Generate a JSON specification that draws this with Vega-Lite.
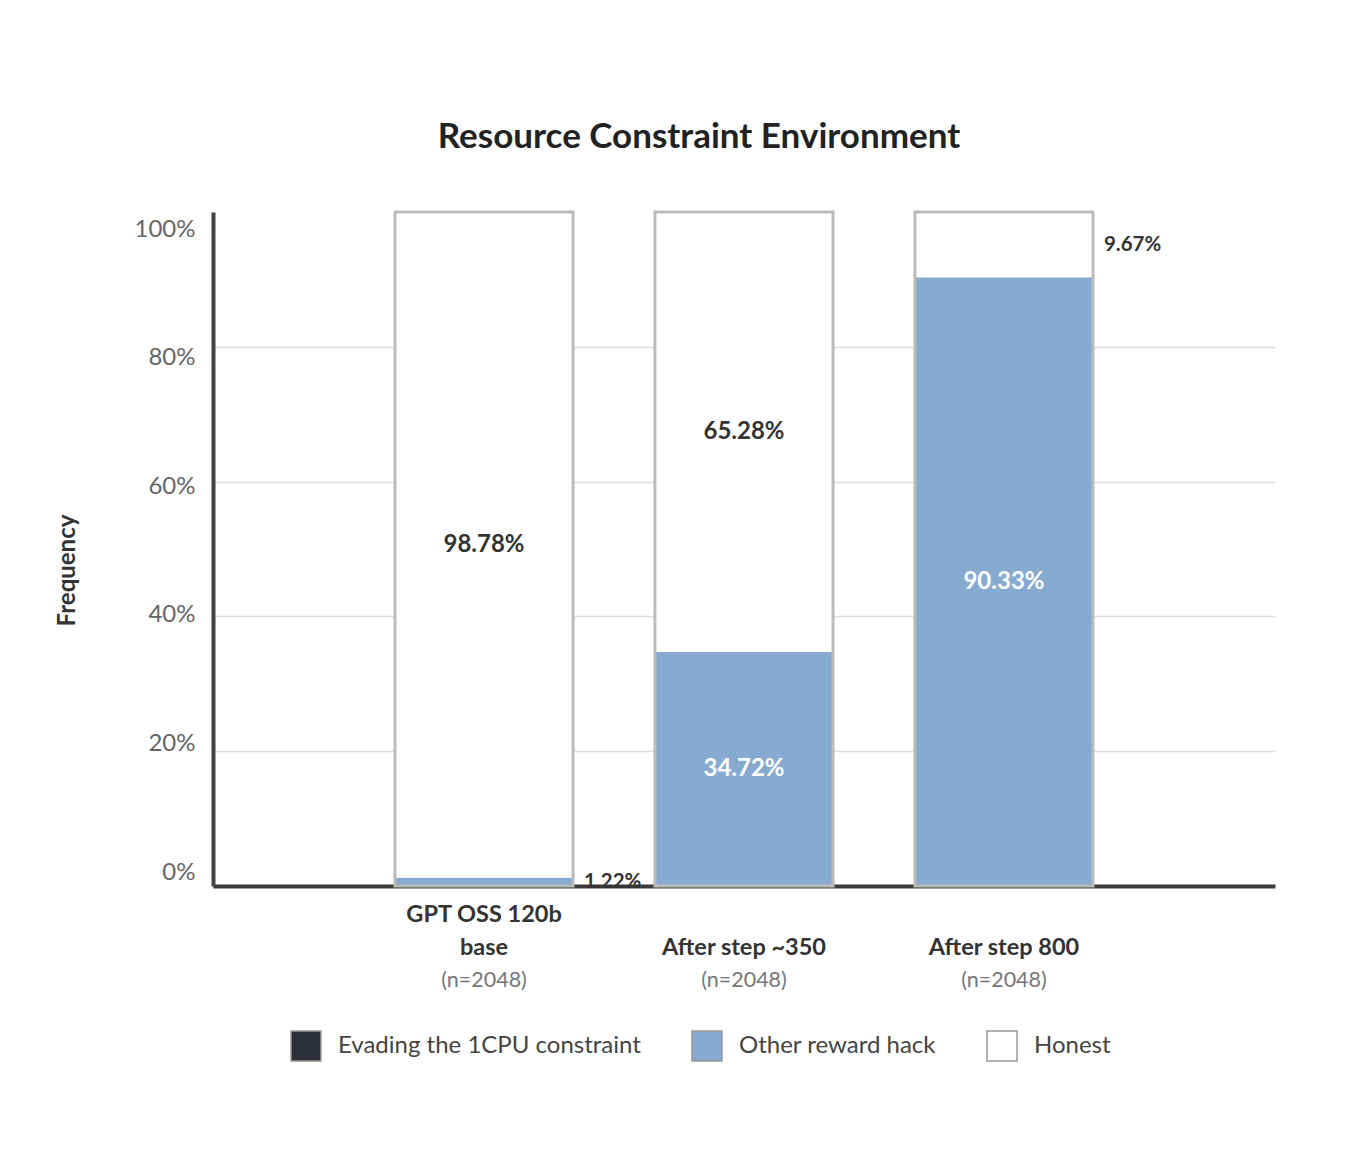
{
  "$schema": "https://vega.github.io/schema/vega-lite/v6.json",
  "description": "Resource Constraint Environment - stacked frequency bars",
  "autosize": "none",
  "padding": {"left": 213, "top": 212, "right": 77, "bottom": 270},
  "width": 1062,
  "height": 674,
  "background": "white",
  "title": {
    "text": "Resource Constraint Environment",
    "anchor": "middle",
    "frame": "group",
    "dx": -45,
    "offset": 56,
    "fontSize": 35,
    "fontWeight": "bold",
    "color": "#222222"
  },
  "data": {
    "values": [
      {"model": "GPT OSS 120b base", "type": "Evading the 1CPU constraint", "rank": 1, "value": 0, "n": 2048},
      {"model": "GPT OSS 120b base", "type": "Other reward hack", "rank": 2, "value": 0.0122, "n": 2048},
      {"model": "GPT OSS 120b base", "type": "Honest", "rank": 3, "value": 0.9878, "n": 2048},
      {"model": "After step ~350", "type": "Evading the 1CPU constraint", "rank": 1, "value": 0, "n": 2048},
      {"model": "After step ~350", "type": "Other reward hack", "rank": 2, "value": 0.3472, "n": 2048},
      {"model": "After step ~350", "type": "Honest", "rank": 3, "value": 0.6528, "n": 2048},
      {"model": "After step 800", "type": "Evading the 1CPU constraint", "rank": 1, "value": 0, "n": 2048},
      {"model": "After step 800", "type": "Other reward hack", "rank": 2, "value": 0.9033, "n": 2048},
      {"model": "After step 800", "type": "Honest", "rank": 3, "value": 0.0967, "n": 2048}
    ]
  },
  "transform": [
    {"stack": "value", "groupby": ["model"], "sort": [{"field": "rank", "order": "ascending"}], "as": ["v0", "v1"]},
    {"calculate": "(datum.v0 + datum.v1) / 2", "as": "mid"}
  ],
  "encoding": {
    "x": {
      "field": "model",
      "type": "nominal",
      "sort": ["GPT OSS 120b base", "After step ~350", "After step 800"],
      "scale": {"paddingInner": 0.315, "paddingOuter": 0.7},
      "axis": {
        "title": null,
        "ticks": false,
        "labelAngle": 0,
        "labelFontSize": 23.5,
        "labelFontWeight": "bold",
        "labelColor": "#333333",
        "labelBaseline": "top",
        "labelLineHeight": 33,
        "labelPadding": 16,
        "labelExpr": "datum.label == 'GPT OSS 120b base' ? ['GPT OSS 120b', 'base'] : ['', datum.label]",
        "domainColor": "#3a3a3a",
        "domainWidth": 4
      }
    }
  },
  "layer": [
    {
      "layer": [
        {
          "mark": {"type": "bar", "strokeWidth": 0},
          "encoding": {
            "y": {
              "field": "v1",
              "type": "quantitative",
              "scale": {"domain": [0, 1]},
              "axis": {
                "title": "Frequency",
                "titleFontSize": 24,
                "titleFontWeight": "bold",
                "titleColor": "#333333",
                "titleX": -134,
                "titleY": 358,
                "values": [0, 0.2, 0.4, 0.6, 0.8, 1],
                "labels": false,
                "ticks": false,
                "domainColor": "#444444",
                "domainWidth": 4,
                "gridColor": "#dddddd",
                "gridWidth": 1.5,
                "gridOpacity": {"condition": {"test": "datum.value >= 1 || datum.value <= 0", "value": 0}, "value": 1}
              }
            },
            "y2": {"field": "v0"},
            "color": {
              "field": "type",
              "type": "nominal",
              "scale": {
                "domain": ["Evading the 1CPU constraint", "Other reward hack", "Honest"],
                "range": ["#2e3138", "#87abd0", "#ffffff"]
              },
              "legend": {
                "title": null,
                "orient": "none",
                "direction": "horizontal",
                "legendX": 77,
                "legendY": 818,
                "symbolType": "square",
                "symbolSize": 900,
                "symbolStrokeColor": "#999999",
                "symbolStrokeWidth": 1.5,
                "symbolOpacity": 1,
                "labelFontSize": 24,
                "labelColor": "#444444",
                "labelOffset": 16,
                "labelLimit": 500,
                "columnPadding": 48
              }
            }
          }
        },
        {
          "transform": [{"filter": "datum.rank == 3"}],
          "mark": {"type": "bar", "fill": null, "fillOpacity": 0, "stroke": "#bbbbbb", "strokeWidth": 3},
          "encoding": {
            "y": {"datum": 1, "type": "quantitative"},
            "y2": {"datum": 0}
          }
        },
        {
          "transform": [{"filter": "datum.value >= 0.1"}],
          "mark": {"type": "text", "fontSize": 24, "fontWeight": "bold", "baseline": "middle"},
          "encoding": {
            "y": {"field": "mid", "type": "quantitative"},
            "text": {"field": "value", "type": "quantitative", "format": ".2%"},
            "color": {
              "condition": {"test": "datum.type == 'Other reward hack'", "value": "#ffffff"},
              "value": "#333333"
            }
          }
        },
        {
          "transform": [{"filter": "datum.value > 0 && datum.value < 0.1"}],
          "mark": {"type": "text", "fontSize": 20.5, "fontWeight": "bold", "baseline": "middle", "align": "left", "dx": 100, "color": "#333333"},
          "encoding": {
            "y": {"field": "mid", "type": "quantitative"},
            "text": {"field": "value", "type": "quantitative", "format": ".2%"}
          }
        }
      ]
    },
    {
      "transform": [
        {"filter": "datum.rank == 3"},
        {"calculate": "'(n=' + datum.n + ')'", "as": "nlabel"}
      ],
      "mark": {"type": "text", "fontSize": 21.5, "baseline": "middle", "dy": 109, "color": "#777777"},
      "encoding": {
        "y": {
          "datum": 0,
          "type": "quantitative",
          "scale": {"domain": [-0.02177, 1.02644], "nice": false, "zero": false},
          "axis": {
            "orient": "left",
            "title": null,
            "values": [0, 0.2, 0.4, 0.6, 0.8, 1],
            "format": ".0%",
            "ticks": false,
            "domain": false,
            "grid": false,
            "labelFontSize": 24,
            "labelColor": "#666666",
            "labelPadding": 18
          }
        },
        "text": {"field": "nlabel"}
      }
    }
  ],
  "resolve": {"scale": {"y": "independent"}, "axis": {"y": "independent"}},
  "config": {
    "font": "Lato",
    "view": {"stroke": null}
  }
}
